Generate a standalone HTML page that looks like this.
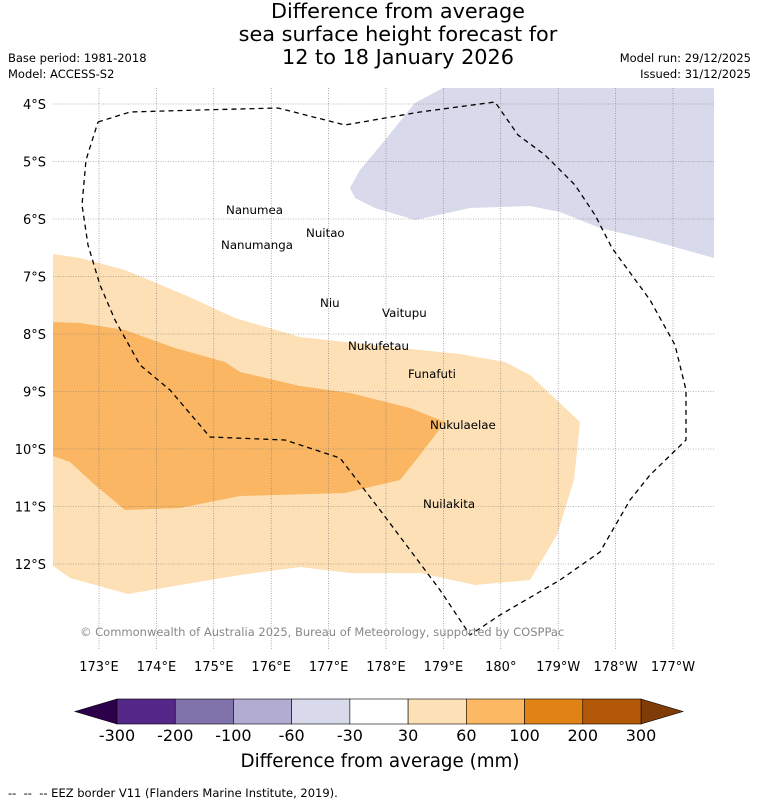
<!DOCTYPE html>
<html><head><meta charset="utf-8"><style>
body{margin:0;background:#fff;width:758px;height:804px;overflow:hidden;font-family:"DejaVu Sans","Liberation Sans",sans-serif}
svg{display:block}
</style></head><body>
<svg width="758" height="804" xmlns="http://www.w3.org/2000/svg" font-family="DejaVu Sans, Liberation Sans, sans-serif">
<g id="titles">
<text x="398" y="18" font-size="20.8" text-anchor="middle">Difference from average</text>
<text x="398" y="41" font-size="20.8" text-anchor="middle">sea surface height forecast for</text>
<text x="398" y="64" font-size="20.8" text-anchor="middle">12 to 18 January 2026</text>
<text x="8" y="62" font-size="11.5">Base period: 1981-2018</text>
<text x="8" y="78" font-size="11.5">Model: ACCESS-S2</text>
<text x="751" y="62" font-size="11.5" text-anchor="end">Model run: 29/12/2025</text>
<text x="751" y="78" font-size="11.5" text-anchor="end">Issued: 31/12/2025</text>
</g>
<g>
<polygon fill="#fde0b6" points="53,254 80,258 125,270 185,295 235,318 300,337 400,348 460,354 505,362 530,375 580,422 574,480 557,535 530,580 475,585 420,573 350,573 300,567 240,575 180,585 128,594 70,578 53,566"/>
<polygon fill="#fab662" points="53,322 80,323 125,330 175,348 225,362 240,372 300,386 350,393 410,408 445,422 420,455 400,480 345,493 240,496 180,508 125,510 95,485 70,462 53,456"/>
<polygon fill="#d8d9ea" points="443,88 714,88 714,258 650,240 600,228 560,212 530,206 500,207 470,208 415,220 375,208 355,198 350,188 360,170 385,140 415,103"/>
</g>
<g id="grid"></g>
<path fill="none" stroke="#000" stroke-width="1.3" stroke-dasharray="5,4" d="M98,122 L130,112 200,110 278,108 345,125 420,112 495,102 518,135 545,155 575,185 595,215 612,248 650,300 675,345 686,390 686,440 650,475 630,500 600,552 560,580 500,615 470,635 440,590 410,550 380,510 340,458 285,440 210,437 170,390 140,365 115,320 100,285 88,245 82,205 86,160 98,122"/>
<g font-size="11.8" fill="#000">
<text x="226" y="214">Nanumea</text>
<text x="306" y="237">Nuitao</text>
<text x="221" y="249">Nanumanga</text>
<text x="320" y="307">Niu</text>
<text x="382" y="317">Vaitupu</text>
<text x="348" y="350">Nukufetau</text>
<text x="408" y="378">Funafuti</text>
<text x="430" y="429">Nukulaelae</text>
<text x="423" y="508">Nuilakita</text>
</g>
<text x="80" y="636" font-size="11.5" fill="#888">© Commonwealth of Australia 2025, Bureau of Meteorology, supported by COSPPac</text>
<g id="ticks" font-size="13"></g>
<g id="cbar"></g>
<text x="380" y="767" font-size="18.3" text-anchor="middle">Difference from average (mm)</text>
<text x="8" y="797" font-size="11.5" xml:space="preserve" style="white-space:pre">--  --  -- EEZ border V11 (Flanders Marine Institute, 2019).</text>
</svg>
<script>
const latTicks=[4,5,6,7,8,9,10,11,12];
const latLabels=["4°S","5°S","6°S","7°S","8°S","9°S","10°S","11°S","12°S"];
const lonTicks=[173,174,175,176,177,178,179,180,181,182,183];
const lonLabels=["173°E","174°E","175°E","176°E","177°E","178°E","179°E","180°","179°W","178°W","177°W"];
const cbarLabels=["-300","-200","-100","-60","-30","30","60","100","200","300"];
const cbarColors=["#542788","#8073ac","#b2abd2","#d8daeb","#ffffff","#fee0b6","#fdb863","#e08214","#b35806"];
const NS="http://www.w3.org/2000/svg";
const yScale=l=>104+(l-4)*57.5;
const xScale=l=>99+(l-173)*57.4;
function mk(t,a,p){const e=document.createElementNS(NS,t);for(const k in a)e.setAttribute(k,a[k]);p.appendChild(e);return e;}
const grid=document.getElementById('grid'),ticks=document.getElementById('ticks');
latTicks.forEach((l,i)=>{const y=yScale(l);
const ln=mk('line',{x1:53,x2:714,y1:y,y2:y,stroke:'#777','stroke-width':0.6,'stroke-dasharray':'1,1.5'},grid);


const t=mk('text',{x:46,y:y+5,'text-anchor':'end'},ticks);t.textContent=latLabels[i];

});
lonTicks.forEach((l,i)=>{const x=xScale(l);
const ln=mk('line',{x1:x,x2:x,y1:88,y2:650,stroke:'#777','stroke-width':0.6,'stroke-dasharray':'1,1.5'},grid);


const t=mk('text',{x:x,y:671,'text-anchor':'middle'},ticks);t.textContent=lonLabels[i];

});
const cb=document.getElementById('cbar');const x0=117,x1=641,y0=699,h=25,w=(x1-x0)/cbarColors.length;
const lt=mk('polygon',{points:`${x0},${y0} ${x0},${y0+h} 75,${y0+h/2}`,fill:'#2d004b',stroke:'#000','stroke-width':0.6},cb);


const rt=mk('polygon',{points:`${x1},${y0} ${x1},${y0+h} 683,${y0+h/2}`,fill:'#7f3b08',stroke:'#000','stroke-width':0.6},cb);


cbarColors.forEach((c,i)=>{const r=mk('rect',{x:x0+i*w,y:y0,width:w,height:h,fill:c,stroke:'#000','stroke-width':0.6},cb);

});
cbarLabels.forEach((s,i)=>{const t=mk('text',{x:x0+i*w,y:741,'font-size':16,'text-anchor':'middle'},cb);t.textContent=s;

});
</script>
</body></html>
